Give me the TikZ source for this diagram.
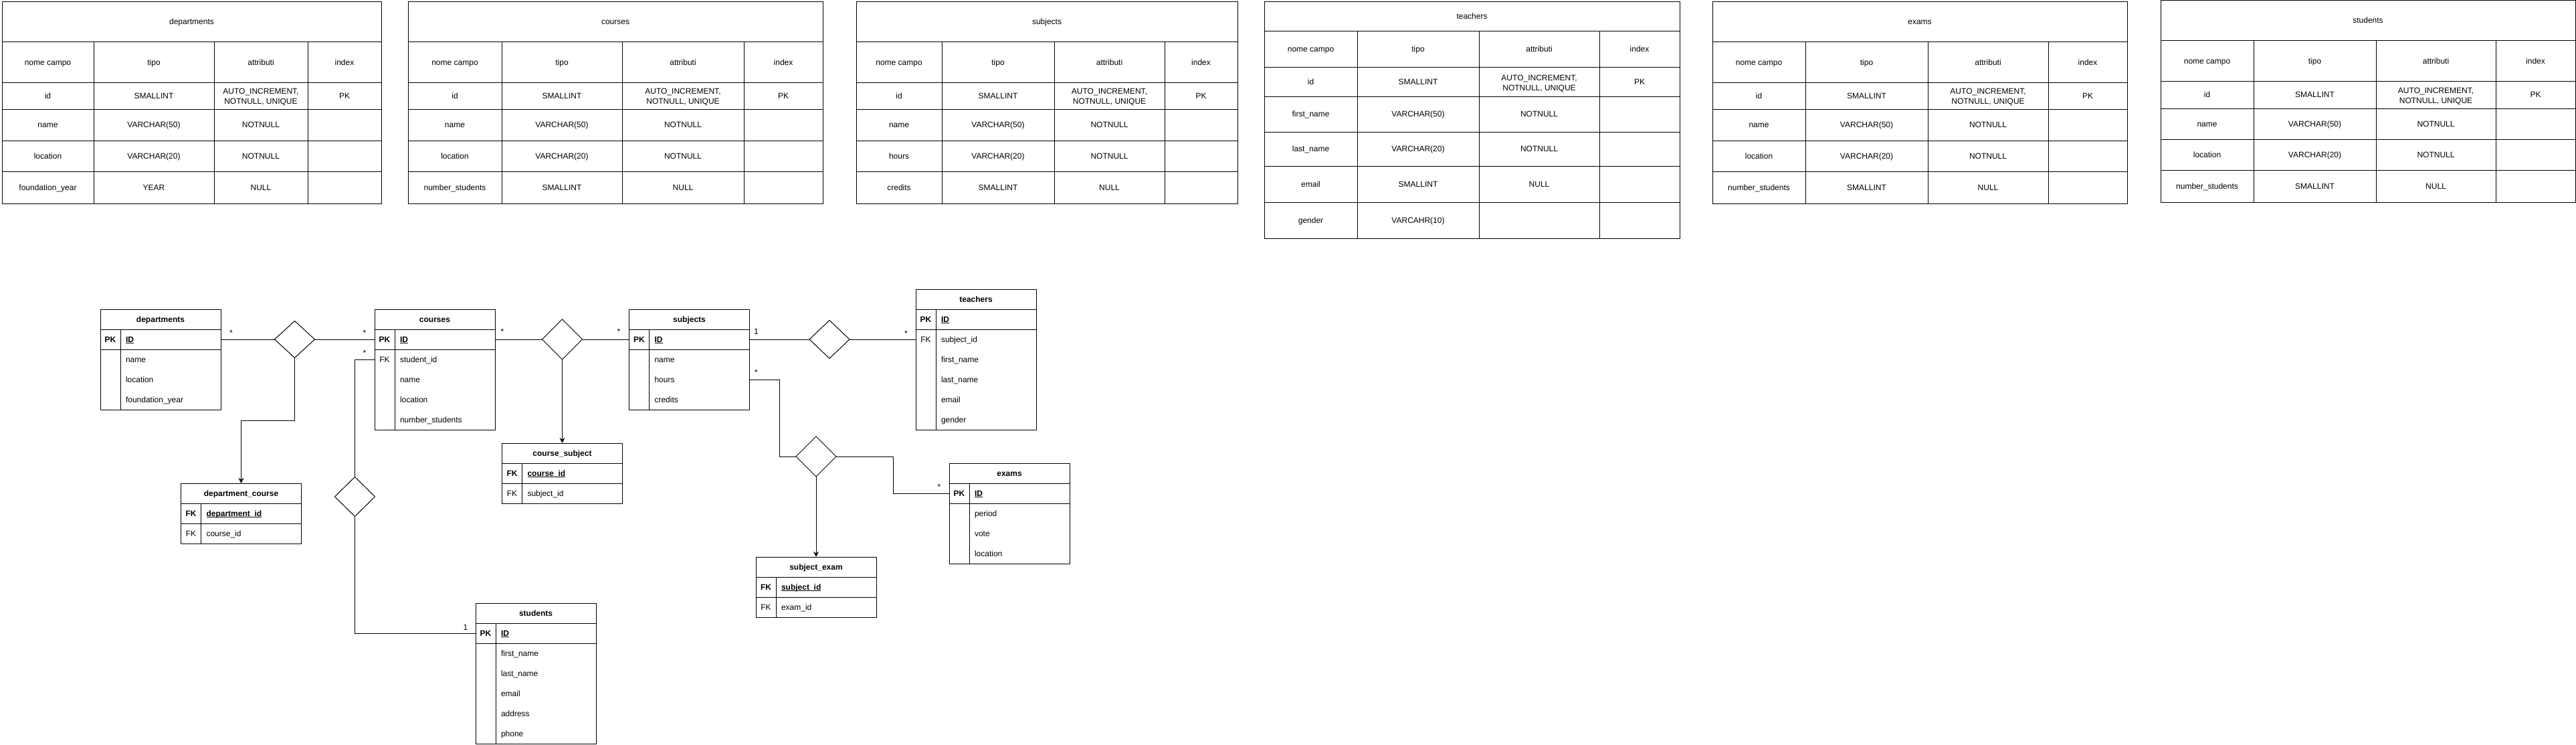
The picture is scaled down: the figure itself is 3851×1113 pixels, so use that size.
\documentclass[tikz,border=0pt]{standalone}
\usepackage{fontspec}
\setmainfont{Liberation Sans}
\usepackage{tikz}
\usetikzlibrary{arrows.meta,shapes.geometric}
\newcommand\keyul[1]{\underline{\smash{#1}}}

\begin{document}
\begin{tikzpicture}[x=1pt, y=-1pt, >={Stealth[length=8pt,width=8pt]},
  font=\fontsize{12}{15}\selectfont, line width=1pt,
  cell/.style={inner sep=0pt, outer sep=0pt, text height=10.2pt, text depth=2.2pt},
  cell2/.style={inner sep=0pt, outer sep=0pt, align=center, yshift=-1.6pt},
  ertitle/.style={cell, minimum width=180pt, minimum height=30pt, font=\fontsize{12}{15}\selectfont\bfseries},
  erkey/.style={cell, minimum width=30pt, minimum height=30pt},
  erfield/.style={cell, anchor=west, text width=134pt, inner xsep=8pt, align=left, minimum height=30pt},
  rel/.style={draw, diamond, inner sep=0pt, outer sep=0pt, minimum width=60pt, minimum height=60pt},
  mult/.style={inner sep=0pt, anchor=base}]

\useasboundingbox (0,0) rectangle (3851,1113);

% tables (top row)
\draw (3,3) rectangle (570,304);
\foreach \y in {63,124,163,210,256} \draw (3,\y) -- (570,\y);
\foreach \x in {140,320,460} \draw (\x,63) -- (\x,304);
\node[cell] (tdep) at (286.5,33) {departments};
\foreach \y/\a/\b/\c/\d [count=\i] in {93.5/nome campo/tipo/attributi/index, 143.5/id/SMALLINT/{}/PK, 186.5/name/VARCHAR(50)/NOTNULL/{}, 233/location/VARCHAR(20)/NOTNULL/{}, 280/foundation\_year/YEAR/NULL/{}}{
  \node[cell] (tdep-\i-a) at (71.5,\y) {\a};
  \node[cell] (tdep-\i-b) at (230,\y) {\b};
  \node[cell] (tdep-\i-c) at (390,\y) {\c};
  \node[cell] (tdep-\i-d) at (515,\y) {\d};
}
\node[cell2] (tdep-ai) at (390,143.5) {AUTO\_INCREMENT,\\NOTNULL, UNIQUE};

\draw (610,3) rectangle (1230,304);
\foreach \y in {63,124,163,210,256} \draw (610,\y) -- (1230,\y);
\foreach \x in {750,930,1112} \draw (\x,63) -- (\x,304);
\node[cell] (tcrs) at (920,33) {courses};
\foreach \y/\a/\b/\c/\d [count=\i] in {93.5/nome campo/tipo/attributi/index, 143.5/id/SMALLINT/{}/PK, 186.5/name/VARCHAR(50)/NOTNULL/{}, 233/location/VARCHAR(20)/NOTNULL/{}, 280/number\_students/SMALLINT/NULL/{}}{
  \node[cell] (tcrs-\i-a) at (680,\y) {\a};
  \node[cell] (tcrs-\i-b) at (840,\y) {\b};
  \node[cell] (tcrs-\i-c) at (1021,\y) {\c};
  \node[cell] (tcrs-\i-d) at (1171,\y) {\d};
}
\node[cell2] (tcrs-ai) at (1021,143.5) {AUTO\_INCREMENT,\\NOTNULL, UNIQUE};

\draw (1280,3) rectangle (1850,304);
\foreach \y in {63,124,163,210,256} \draw (1280,\y) -- (1850,\y);
\foreach \x in {1408,1576,1741} \draw (\x,63) -- (\x,304);
\node[cell] (tsub) at (1565,33) {subjects};
\foreach \y/\a/\b/\c/\d [count=\i] in {93.5/nome campo/tipo/attributi/index, 143.5/id/SMALLINT/{}/PK, 186.5/name/VARCHAR(50)/NOTNULL/{}, 233/hours/VARCHAR(20)/NOTNULL/{}, 280/credits/SMALLINT/NULL/{}}{
  \node[cell] (tsub-\i-a) at (1344,\y) {\a};
  \node[cell] (tsub-\i-b) at (1492,\y) {\b};
  \node[cell] (tsub-\i-c) at (1658.5,\y) {\c};
  \node[cell] (tsub-\i-d) at (1795.5,\y) {\d};
}
\node[cell2] (tsub-ai) at (1658.5,143.5) {AUTO\_INCREMENT,\\NOTNULL, UNIQUE};

\draw (1890,3) rectangle (2511,356);
\foreach \y in {47,101,145,197,248,302} \draw (1890,\y) -- (2511,\y);
\foreach \x in {2029,2211,2391} \draw (\x,47) -- (\x,356);
\node[cell] (ttea) at (2200.5,25) {teachers};
\foreach \y/\a/\b/\c/\d [count=\i] in {74/nome campo/tipo/attributi/index, 123/id/SMALLINT/{}/PK, 171/first\_name/VARCHAR(50)/NOTNULL/{}, 222.5/last\_name/VARCHAR(20)/NOTNULL/{}, 275/email/SMALLINT/NULL/{}, 329/gender/VARCAHR(10)/{}/{}}{
  \node[cell] (ttea-\i-a) at (1959.5,\y) {\a};
  \node[cell] (ttea-\i-b) at (2120,\y) {\b};
  \node[cell] (ttea-\i-c) at (2301,\y) {\c};
  \node[cell] (ttea-\i-d) at (2451,\y) {\d};
}
\node[cell2] (ttea-ai) at (2301,123) {AUTO\_INCREMENT,\\NOTNULL, UNIQUE};

\draw (2560,3) rectangle (3180,304);
\foreach \y in {63,124,163,210,256} \draw (2560,\y) -- (3180,\y);
\foreach \x in {2699,2882,3062} \draw (\x,63) -- (\x,304);
\node[cell] (texa) at (2870,33) {exams};
\foreach \y/\a/\b/\c/\d [count=\i] in {93.5/nome campo/tipo/attributi/index, 143.5/id/SMALLINT/{}/PK, 186.5/name/VARCHAR(50)/NOTNULL/{}, 233/location/VARCHAR(20)/NOTNULL/{}, 280/number\_students/SMALLINT/NULL/{}}{
  \node[cell] (texa-\i-a) at (2629.5,\y) {\a};
  \node[cell] (texa-\i-b) at (2790.5,\y) {\b};
  \node[cell] (texa-\i-c) at (2972,\y) {\c};
  \node[cell] (texa-\i-d) at (3121,\y) {\d};
}
\node[cell2] (texa-ai) at (2972,143.5) {AUTO\_INCREMENT,\\NOTNULL, UNIQUE};

\draw (3230,1) rectangle (3850,302);
\foreach \y in {61,122,162,208,254} \draw (3230,\y) -- (3850,\y);
\foreach \x in {3369,3552,3731} \draw (\x,61) -- (\x,302);
\node[cell] (tstu) at (3540,31) {students};
\foreach \y/\a/\b/\c/\d [count=\i] in {91.5/nome campo/tipo/attributi/index, 142/id/SMALLINT/{}/PK, 185/name/VARCHAR(50)/NOTNULL/{}, 231/location/VARCHAR(20)/NOTNULL/{}, 278/number\_students/SMALLINT/NULL/{}}{
  \node[cell] (tstu-\i-a) at (3299.5,\y) {\a};
  \node[cell] (tstu-\i-b) at (3460.5,\y) {\b};
  \node[cell] (tstu-\i-c) at (3641.5,\y) {\c};
  \node[cell] (tstu-\i-d) at (3790.5,\y) {\d};
}
\node[cell2] (tstu-ai) at (3641.5,142) {AUTO\_INCREMENT,\\NOTNULL, UNIQUE};

% ER diagram
\node[ertitle] (dep) at (240,477) {departments};
\foreach \k/\f [count=\i] in {\textbf{PK}/\textbf{\keyul{ID}}, {}/name, {}/location, {}/foundation\_year}{
  \node[erkey] (dep-\i-k) at (165,{477+30*\i}) {\k};
  \node[erfield] (dep-\i) at (180,{477+30*\i}) {\f};
}
\draw (dep.north west) rectangle (dep-4.south east);
\draw (dep.south west) -- (dep.south east);
\draw (dep-1-k.south west) -- (dep-1.south east);
\draw (dep-1-k.north east) -- (dep-4-k.south east);

\node[ertitle] (crs) at (650,477) {courses};
\foreach \k/\f [count=\i] in {\textbf{PK}/\textbf{\keyul{ID}}, FK/student\_id, {}/name, {}/location, {}/number\_students}{
  \node[erkey] (crs-\i-k) at (575,{477+30*\i}) {\k};
  \node[erfield] (crs-\i) at (590,{477+30*\i}) {\f};
}
\draw (crs.north west) rectangle (crs-5.south east);
\draw (crs.south west) -- (crs.south east);
\draw (crs-1-k.south west) -- (crs-1.south east);
\draw (crs-1-k.north east) -- (crs-5-k.south east);

\node[ertitle] (sub) at (1030.5,477) {subjects};
\foreach \k/\f [count=\i] in {\textbf{PK}/\textbf{\keyul{ID}}, {}/name, {}/hours, {}/credits}{
  \node[erkey] (sub-\i-k) at (955.5,{477+30*\i}) {\k};
  \node[erfield] (sub-\i) at (970.5,{477+30*\i}) {\f};
}
\draw (sub.north west) rectangle (sub-4.south east);
\draw (sub.south west) -- (sub.south east);
\draw (sub-1-k.south west) -- (sub-1.south east);
\draw (sub-1-k.north east) -- (sub-4-k.south east);

\node[ertitle] (tea) at (1459,447) {teachers};
\foreach \k/\f [count=\i] in {\textbf{PK}/\textbf{\keyul{ID}}, FK/subject\_id, {}/first\_name, {}/last\_name, {}/email, {}/gender}{
  \node[erkey] (tea-\i-k) at (1384,{447+30*\i}) {\k};
  \node[erfield] (tea-\i) at (1399,{447+30*\i}) {\f};
}
\draw (tea.north west) rectangle (tea-6.south east);
\draw (tea.south west) -- (tea.south east);
\draw (tea-1-k.south west) -- (tea-1.south east);
\draw (tea-1-k.north east) -- (tea-6-k.south east);

\node[ertitle] (exa) at (1509,707) {exams};
\foreach \k/\f [count=\i] in {\textbf{PK}/\textbf{\keyul{ID}}, {}/period, {}/vote, {}/location}{
  \node[erkey] (exa-\i-k) at (1434,{707+30*\i}) {\k};
  \node[erfield] (exa-\i) at (1449,{707+30*\i}) {\f};
}
\draw (exa.north west) rectangle (exa-4.south east);
\draw (exa.south west) -- (exa.south east);
\draw (exa-1-k.south west) -- (exa-1.south east);
\draw (exa-1-k.north east) -- (exa-4-k.south east);

\node[ertitle] (stu) at (801,916) {students};
\foreach \k/\f [count=\i] in {\textbf{PK}/\textbf{\keyul{ID}}, {}/first\_name, {}/last\_name, {}/email, {}/address, {}/phone}{
  \node[erkey] (stu-\i-k) at (726,{916+30*\i}) {\k};
  \node[erfield] (stu-\i) at (741,{916+30*\i}) {\f};
}
\draw (stu.north west) rectangle (stu-6.south east);
\draw (stu.south west) -- (stu.south east);
\draw (stu-1-k.south west) -- (stu-1.south east);
\draw (stu-1-k.north east) -- (stu-6-k.south east);

\node[ertitle] (dc) at (360.5,737) {department\_course};
\foreach \k/\f [count=\i] in {\textbf{FK}/\textbf{\keyul{department\_id}}, FK/course\_id}{
  \node[erkey] (dc-\i-k) at (285.5,{737+30*\i}) {\k};
  \node[erfield] (dc-\i) at (300.5,{737+30*\i}) {\f};
}
\draw (dc.north west) rectangle (dc-2.south east);
\draw (dc.south west) -- (dc.south east);
\draw (dc-1-k.south west) -- (dc-1.south east);
\draw (dc-1-k.north east) -- (dc-2-k.south east);

\node[ertitle] (cs) at (840.5,677) {course\_subject};
\foreach \k/\f [count=\i] in {\textbf{FK}/\textbf{\keyul{course\_id}}, FK/subject\_id}{
  \node[erkey] (cs-\i-k) at (765.5,{677+30*\i}) {\k};
  \node[erfield] (cs-\i) at (780.5,{677+30*\i}) {\f};
}
\draw (cs.north west) rectangle (cs-2.south east);
\draw (cs.south west) -- (cs.south east);
\draw (cs-1-k.south west) -- (cs-1.south east);
\draw (cs-1-k.north east) -- (cs-2-k.south east);

\node[ertitle] (se) at (1220,847) {subject\_exam};
\foreach \k/\f [count=\i] in {\textbf{FK}/\textbf{\keyul{subject\_id}}, FK/exam\_id}{
  \node[erkey] (se-\i-k) at (1145,{847+30*\i}) {\k};
  \node[erfield] (se-\i) at (1160,{847+30*\i}) {\f};
}
\draw (se.north west) rectangle (se-2.south east);
\draw (se.south west) -- (se.south east);
\draw (se-1-k.south west) -- (se-1.south east);
\draw (se-1-k.north east) -- (se-2-k.south east);

% relations
\node[rel, minimum height=55pt] (r1) at (440.5,507) {};
\node[rel] (r2) at (840.5,507) {};
\node[rel, minimum height=57pt] (r3) at (1240,507) {};
\node[rel] (r4) at (1220,682) {};
\node[rel, minimum height=59pt] (r5) at (530.5,742) {};

\draw (dep-1.east) -- (r1.west);
\draw (r1.east) -- (crs-1-k.west);
\draw[->] (r1.south) -- ++(0,94) -| (dc.north);
\draw (crs-2-k.west) -| (r5.north);
\draw (r5.south) |- (stu-1-k.west);
\draw (crs-1.east) -- (r2.west);
\draw (r2.east) -- (sub-1-k.west);
\draw[->] (r2.south) -- (cs.north);
\draw (sub-1.east) -- (r3.west);
\draw (r3.east) -- (tea-2-k.west);
\draw (sub-3.east) -- ++(45,0) |- (r4.west);
\draw (r4.east) -- ++(85,0) |- (exa-1-k.west);
\draw[->] (r4.south) -- (se.north);

\node[mult] (m1) at (345.5,501) {*};
\node[mult] (m2) at (545,501) {*};
\node[mult] (m3) at (545,531) {*};
\node[mult] (m4) at (751,499) {*};
\node[mult] (m5) at (925,499) {*};
\node[mult] (m6) at (1130.5,499.5) {1};
\node[mult] (m7) at (1354.5,502) {*};
\node[mult] (m8) at (1130.5,560) {*};
\node[mult] (m9) at (1404,731.5) {*};
\node[mult] (m10) at (696,941) {1};

\end{tikzpicture}
\end{document}
